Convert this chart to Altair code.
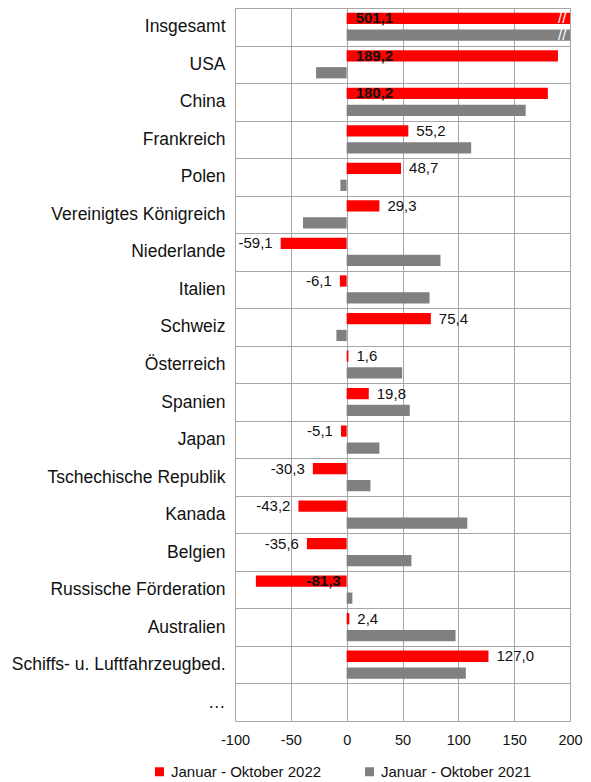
import altair as alt
import pandas as pd

categories = ["Insgesamt", "USA", "China", "Frankreich", "Polen",
              "Vereinigtes Königreich", "Niederlande", "Italien", "Schweiz",
              "Österreich", "Spanien", "Japan", "Tschechische Republik",
              "Kanada", "Belgien", "Russische Förderation", "Australien",
              "Schiffs- u. Luftfahrzeugbed.", "…"]
values_2022 = [501.1, 189.2, 180.2, 55.2, 48.7, 29.3, -59.1, -6.1, 75.4, 1.6,
               19.8, -5.1, -30.3, -43.2, -35.6, -81.3, 2.4, 127.0, None]
values_2021 = [300.0, -27.4, 160.3, 111.5, -5.6, -39.1, 84.0, 74.2, -9.2, 49.7,
               56.5, 29.3, 21.3, 108.0, 58.0, 5.1, 97.5, 106.7, None]
labels_2022 = ["501,1", "189,2", "180,2", "55,2", "48,7", "29,3", "-59,1",
               "-6,1", "75,4", "1,6", "19,8", "-5,1", "-30,3", "-43,2",
               "-35,6", "-81,3", "2,4", "127,0", ""]
bold_inside = ["Insgesamt", "USA", "China", "Russische Förderation"]
broken = ["Insgesamt"]
series = ["Januar - Oktober 2022", "Januar - Oktober 2021"]
colors = ["#ff0000", "#808080"]
x_ticks = [-100, -50, 0, 50, 100, 150, 200]
BREAK_AT = 193

rows = []
for c, v22, v21, lab in zip(categories, values_2022, values_2021, labels_2022):
    if v22 is not None:
        kind = ("bpos" if v22 >= 0 else "bneg") if c in bold_inside else ("pos" if v22 >= 0 else "neg")
        rows.append(dict(cat=c, series=series[0], value=v22, label=lab, kind=kind, base=0))
    if v21 is not None:
        rows.append(dict(cat=c, series=series[1], value=v21, label="", kind="none", base=0))
df = pd.DataFrame(rows)

brk = pd.DataFrame([dict(cat=c, series=s, pos=BREAK_AT, mark="//") for c in broken for s in series])

FONT = "Liberation Sans"

X = alt.X("value:Q", title=None,
          scale=alt.Scale(domain=[-100, 200], nice=False, zero=False),
          axis=alt.Axis(values=x_ticks, grid=True, gridColor="#a6a6a6", gridWidth=1,
                        ticks=False, domain=False, labelFontSize=14.5, labelFont=FONT,
                        labelColor="#111111", labelPadding=12,
                        labelExpr="'' + datum.value",
                        labelFlush=False, labelOverlap=False))
Y = alt.Y("cat:N", title=None,
          scale=alt.Scale(domain=categories, paddingInner=0, paddingOuter=0),
          axis=alt.Axis(grid=True, tickBand="extent", gridColor="#a6a6a6", gridWidth=1,
                        ticks=False, domain=False, labelFontSize=17.5, labelFont=FONT,
                        labelColor="#111111", labelPadding=10, labelLimit=300))
YO = alt.YOffset("series:N", scale=alt.Scale(domain=series, paddingInner=0.335, paddingOuter=0.276))

base = alt.Chart(df)

bars = base.mark_bar(clip=True).encode(
    x=X, x2=alt.X2("base:Q"), y=Y, yOffset=YO,
    color=alt.Color("series:N", scale=alt.Scale(domain=series, range=colors),
                    legend=alt.Legend(title=None, orient="none", legendX=-83, legendY=756,
                                      direction="horizontal", symbolType="square",
                                      symbolSize=81, symbolStrokeWidth=0,
                                      labelFontSize=15, labelFont=FONT, labelColor="#111111",
                                      columnPadding=40, labelOffset=4, labelLimit=400)),
)

def txt(kind, xfield, align, dx, weight):
    return base.transform_filter(alt.datum.kind == kind).mark_text(
        align=align, baseline="middle", dx=dx, fontSize=15, font=FONT,
        fontWeight=weight, color="#111111"
    ).encode(x=alt.X(f"{xfield}:Q"), y=alt.Y("cat:N"), yOffset=alt.YOffset("series:N"), text="label:N")

t_pos = txt("pos", "value", "left", 8, "normal")
t_neg = txt("neg", "value", "right", -8, "normal")
t_bpos = txt("bpos", "base", "left", 9, "bold")
t_bneg = txt("bneg", "base", "right", -6, "bold")

breaks = alt.Chart(brk).mark_text(align="center", baseline="middle", fontSize=15,
                                  font=FONT, color="white").encode(
    x=alt.X("pos:Q"), y=alt.Y("cat:N"), yOffset=alt.YOffset("series:N"), text="mark:N")

chart = alt.layer(bars, breaks, t_pos, t_neg, t_bpos, t_bneg).properties(
    width=335, height=713,
    autosize=alt.AutoSizeParams(type="none"),
    padding={"left": 227, "top": 0, "right": 13, "bottom": 60},
).configure_view(stroke="#8c8c8c", strokeWidth=1.2).configure(background="white")

chart.save("out.html", embed_options={"renderer": "svg", "actions": False})
